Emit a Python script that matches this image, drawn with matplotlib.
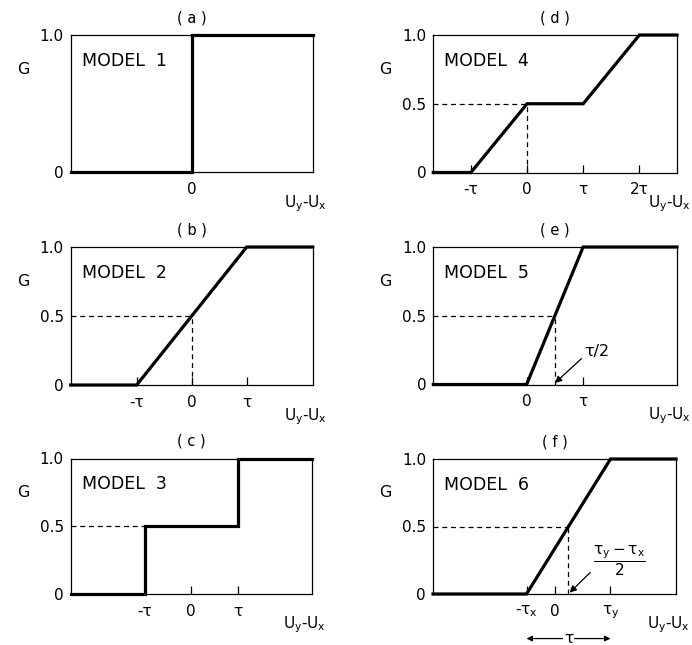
import matplotlib.pyplot as plt

plt.rcParams['font.family'] = 'DejaVu Sans'
plt.rcParams['mathtext.default'] = 'regular'

# G(Uy-Ux) for each model, x measured in units of tau
m1_x = [-2.2, 0, 0, 2.2]
m1_g = [0, 0, 1, 1]
m2_x = [-2.2, -1, 1, 2.2]
m2_g = [0, 0, 1, 1]
m3_x = [-2.6, -1, -1, 1, 1, 2.6]
m3_g = [0, 0, 0.5, 0.5, 1, 1]
m4_x = [-1.67, -1, 0, 1, 2, 2.67]
m4_g = [0, 0, 0.5, 0.5, 1, 1]
m5_x = [-1.65, 0, 1, 2.66]
m5_g = [0, 0, 1, 1]
m6_x = [-2.17, -0.5, 1.0, 2.17]
m6_g = [0, 0, 1, 1]

# x where G = 0.5 (dashed guides), None = no guide
half_x = [None, 0, -1, 0, 0.5, 0.25]
half_vert = [False, True, False, True, True, True]

xticks = [[0], [-1, 0, 1], [-1, 0, 1], [-1, 0, 1, 2], [0, 1], [-0.5, 0, 1.0]]
xlabels = [['0'], ['-τ', '0', 'τ'], ['-τ', '0', 'τ'], ['-τ', '0', 'τ', '2τ'],
           ['0', 'τ'], [r'-$\tau_x$', '0', r'$\tau_y$']]
titles = ['( a )', '( b )', '( c )', '( d )', '( e )', '( f )']
models = ['MODEL  1', 'MODEL  2', 'MODEL  3', 'MODEL  4', 'MODEL  5', 'MODEL  6']

curves = [(m1_x, m1_g), (m2_x, m2_g), (m3_x, m3_g),
          (m4_x, m4_g), (m5_x, m5_g), (m6_x, m6_g)]

W, H = 692, 645
fig = plt.figure(figsize=(W / 100, H / 100), dpi=100)

# axes boxes in pixels: left, top, right, bottom
boxes = [(70.7, 35, 312.7, 172), (70.7, 247, 312.7, 385), (70.7, 458.5, 311.7, 594),
         (433.3, 35, 677, 172.5), (433.3, 247, 677, 384.5), (433, 459, 676, 594)]

for i in range(6):
    l, t, r, b = boxes[i]
    ax = fig.add_axes([l / W, 1 - b / H, (r - l) / W, (b - t) / H])
    x, g = curves[i]
    ax.plot(x, g, color='black', lw=2.3, clip_on=False, solid_joinstyle='miter', zorder=3)
    ax.set_xlim(x[0], x[-1])
    ax.set_ylim(0, 1)
    for s in ax.spines.values():
        s.set_linewidth(0.9)

    if half_x[i] is not None:
        ax.plot([x[0], half_x[i]], [0.5, 0.5], color='black', lw=0.9,
                dashes=(4, 3), zorder=2)
        if half_vert[i]:
            ax.plot([half_x[i], half_x[i]], [0, 0.5], color='black', lw=0.9,
                    dashes=(4, 3), zorder=2)
        ax.set_yticks([0, 0.5, 1])
        ax.set_yticklabels(['0', '0.5', '1.0'])
    else:
        ax.set_yticks([0, 1])
        ax.set_yticklabels(['0', '1.0'])

    ax.set_xticks(xticks[i])
    ax.set_xticklabels(xlabels[i])
    ax.tick_params(axis='x', direction='in', length=5.5, width=0.9, pad=7, labelsize=11)
    ax.tick_params(axis='y', length=0, pad=5, labelsize=11)

    ax.set_title(titles[i], fontsize=10.5, pad=9)
    ax.text(0.045, 0.81, models[i], transform=ax.transAxes, fontsize=12.5,
            va='center', ha='left')
    ax.text(-0.195, 0.75, 'G', transform=ax.transAxes, fontsize=11.5,
            va='center', ha='center')
    ax.text(1.058, -0.23, r'$U_y$-$U_x$', transform=ax.transAxes, fontsize=11,
            va='center', ha='right')

    if i == 4:
        ax.annotate('τ/2', xy=(0.5, 0.01), xytext=(1.02, 0.24), fontsize=11.5,
                    va='center', ha='left',
                    arrowprops=dict(arrowstyle='-|>', color='black', lw=0.9,
                                    shrinkA=0, shrinkB=0, mutation_scale=10,
                                    relpos=(0, 0.2)))
    if i == 5:
        ax.annotate(r'$\dfrac{\tau_y - \tau_x}{2}$', xy=(0.27, 0.01), xytext=(1.16, 0.25),
                    fontsize=11, va='center', ha='center',
                    arrowprops=dict(arrowstyle='-|>', color='black', lw=0.9,
                                    shrinkA=0, shrinkB=0, mutation_scale=10,
                                    relpos=(0.05, 0.3)))
        ax.annotate('', xy=(-0.5, -0.33), xytext=(1.0, -0.33),
                    xycoords='data', annotation_clip=False,
                    arrowprops=dict(arrowstyle='<|-|>', color='black', lw=0.9,
                                    shrinkA=0, shrinkB=0, mutation_scale=8))
        ax.text(0.25, -0.33, 'τ', fontsize=11, ha='center', va='center',
                clip_on=False, bbox=dict(fc='white', ec='none', pad=0.5))

fig.savefig('out.png', dpi=100, facecolor='white')
